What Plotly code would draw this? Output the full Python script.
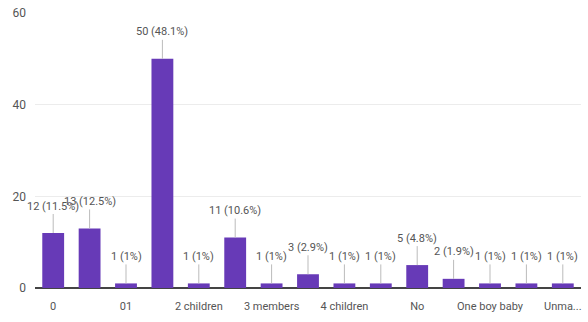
import plotly.graph_objects as go

# Response counts per answer (15 answers, every other one labelled on the axis)
counts = [12, 13, 1, 50, 1, 11, 1, 3, 1, 1, 5, 2, 1, 1, 1]
tick_labels = ["0", "01", "2 children", "3 members", "4 children", "No", "One boy baby", "Unma..."]
tick_positions = [0, 2, 4, 6, 8, 10, 12, 14]
y_ticks = [0, 20, 40, 60]

total = sum(counts)
positions = list(range(len(counts)))

FONT = "Roboto, Arial, sans-serif"
TEXT = "#555555"

fig = go.Figure(
    go.Bar(
        x=positions,
        y=counts,
        marker=dict(color="#673ab7", line=dict(width=0)),
        width=0.6,
        hoverinfo="skip",
    )
)

# Value labels with a leader line from the bar top
for x, v in zip(positions, counts):
    pct = v / total * 100
    pct_txt = f"{pct:.1f}".rstrip("0").rstrip(".")
    fig.add_annotation(
        x=x, y=v, xref="x", yref="y",
        text=f"{v} ({pct_txt}%)",
        showarrow=True, arrowhead=0, arrowwidth=1, arrowcolor="#bbbbbb",
        ax=0, ay=-27, standoff=0,
        font=dict(family=FONT, size=11, color=TEXT),
    )

fig.update_layout(
    width=588, height=322,
    margin=dict(l=35, r=6, t=10, b=34),
    paper_bgcolor="white", plot_bgcolor="white",
    showlegend=False,
    font=dict(family=FONT, size=11, color=TEXT),
    xaxis=dict(
        range=[-0.5, 14.5],
        tickmode="array", tickvals=tick_positions, ticktext=tick_labels,
        showgrid=False, zeroline=False, showline=False, ticks="",
        ticklabelstandoff=10,
        tickfont=dict(family=FONT, size=11, color=TEXT),
    ),
    yaxis=dict(
        range=[0, 60],
        tickmode="array", tickvals=y_ticks,
        showgrid=True, gridcolor="#ececec", gridwidth=1,
        zeroline=True, zerolinecolor="#444444", zerolinewidth=1.5,
        showline=False, ticks="",
        ticklabelstandoff=8,
        tickfont=dict(family=FONT, size=12, color=TEXT),
    ),
)

fig.write_html("out.html")
